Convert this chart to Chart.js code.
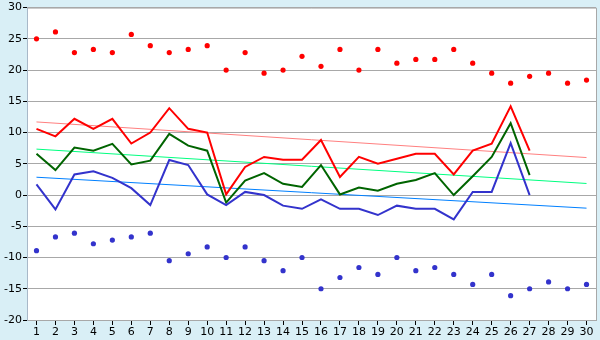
<!DOCTYPE html>
<html>
<head>
<meta charset="utf-8">
<script src="https://cdn.jsdelivr.net/npm/chart.js@4/dist/chart.umd.min.js"></script>
<style>
  html, body { margin: 0; padding: 0; background: #d9eff6; }
  canvas { display: block; }
</style>
</head>
<body>
<canvas id="myChart" width="600" height="340"></canvas>
<script>
// Days of the month
const days = ['1','2','3','4','5','6','7','8','9','10','11','12','13','14','15',
  '16','17','18','19','20','21','22','23','24','25','26','27','28','29','30'];

// Record highs / lows per day (scatter markers)
const recordHigh = [25, 26.1, 22.8, 23.3, 22.8, 25.7, 23.9, 22.8, 23.3, 23.9,
  20, 22.8, 19.5, 20, 22.2, 20.6, 23.3, 20, 23.3, 21.1,
  21.7, 21.7, 23.3, 21.1, 19.5, 17.9, 19, 19.5, 17.9, 18.4];
const recordLow = [-8.9, -6.7, -6.1, -7.8, -7.2, -6.7, -6.1, -10.5, -9.4, -8.3,
  -10, -8.3, -10.5, -12.1, -10, -15, -13.2, -11.6, -12.7, -10,
  -12.1, -11.6, -12.7, -14.3, -12.7, -16.1, -15, -13.9, -15, -14.3];

// Daily max / mean / min for days 1..27
const dailyMax = [10.6, 9.4, 12.2, 10.6, 12.2, 8.25, 10, 13.9, 10.6, 10,
  0.1, 4.5, 6.1, 5.65, 5.65, 8.8, 2.9, 6.1, 5, 5.8,
  6.6, 6.6, 3.3, 7.1, 8.2, 14.2, 7.1];
const dailyMean = [6.6, 4, 7.6, 7.1, 8.2, 4.9, 5.5, 9.8, 7.9, 7.1,
  -1.2, 2.3, 3.5, 1.8, 1.3, 4.8, 0.1, 1.2, 0.7, 1.8,
  2.4, 3.5, 0, 3, 6.1, 11.5, 3.2];
const dailyMin = [1.7, -2.3, 3.3, 3.8, 2.75, 1.1, -1.6, 5.6, 4.8, 0.1,
  -1.6, 0.5, 0, -1.7, -2.2, -0.7, -2.2, -2.2, -3.2, -1.7,
  -2.2, -2.2, -3.9, 0.5, 0.5, 8.3, 0];

// Normal max / mean / min (start and end of month)
const normalMax = [11.7, 6.0];
const normalMean = [7.35, 1.85];
const normalMin = [2.85, -2.1];

const yTicks = [-20, -15, -10, -5, 0, 5, 10, 15, 20, 25, 30];

function endpoints(vals) {
  return [{ x: days[0], y: vals[0] }, { x: days[days.length - 1], y: vals[1] }];
}

// White plot area with a thin grey frame
const plotFrame = {
  id: 'plotFrame',
  beforeDraw(chart) {
    const { ctx, chartArea: a } = chart;
    ctx.save();
    ctx.fillStyle = '#ffffff';
    ctx.fillRect(a.left, a.top, a.right - a.left, a.bottom - a.top);
    ctx.restore();
  },
  afterDatasetsDraw(chart) {
    const { ctx, chartArea: a } = chart;
    ctx.save();
    ctx.strokeStyle = '#a8a8a8';
    ctx.lineWidth = 1;
    ctx.beginPath();
    ctx.moveTo(a.left, a.top + 0.5);
    ctx.lineTo(a.right + 0.5, a.top + 0.5);
    ctx.lineTo(a.right + 0.5, a.bottom);
    ctx.stroke();
    ctx.restore();
  }
};

const lineStyle = (color, width) => ({
  type: 'line',
  borderColor: color,
  backgroundColor: color,
  borderWidth: width,
  pointRadius: 0,
  fill: false,
  tension: 0
});

const ctx = document.getElementById('myChart').getContext('2d');
const myChart = new Chart(ctx, {
  data: {
    labels: days,
    datasets: [
      Object.assign(lineStyle('#3333cc', 2), { label: 'Min', data: dailyMin }),
      Object.assign(lineStyle('#006400', 2), { label: 'Mean', data: dailyMean }),
      Object.assign(lineStyle('#ff0000', 2), { label: 'Max', data: dailyMax }),
      Object.assign(lineStyle('#ff8080', 1), { label: 'Normal max', data: endpoints(normalMax) }),
      Object.assign(lineStyle('#00ff80', 1), { label: 'Normal mean', data: endpoints(normalMean) }),
      Object.assign(lineStyle('#0080ff', 1), { label: 'Normal min', data: endpoints(normalMin) }),
      {
        type: 'line', label: 'Record high', data: recordHigh, showLine: false,
        pointStyle: 'circle', pointRadius: 2.6, pointBorderWidth: 0,
        pointBackgroundColor: '#ff0000', borderColor: '#ff0000'
      },
      {
        type: 'line', label: 'Record low', data: recordLow, showLine: false,
        pointStyle: 'circle', pointRadius: 2.6, pointBorderWidth: 0,
        pointBackgroundColor: '#3333cc', borderColor: '#3333cc'
      }
    ]
  },
  plugins: [plotFrame],
  options: {
    responsive: false,
    animation: false,
    layout: { padding: { top: 5, right: 4, left: 0, bottom: 0 } },
    plugins: { legend: { display: false }, tooltip: { enabled: false } },
    scales: {
      x: {
        type: 'category',
        offset: true,
        grid: {
          offset: false, drawOnChartArea: false, drawTicks: true,
          tickLength: 5, tickColor: '#000000'
        },
        border: { color: '#a8a8a8' },
        ticks: {
          autoSkip: false, maxRotation: 0, padding: 1,
          color: '#000000', font: { family: 'DejaVu Sans', size: 11 }
        },
        afterFit(scale) { scale.height = 20; }
      },
      y: {
        min: -20, max: 30,
        afterBuildTicks(scale) { scale.ticks = yTicks.map(v => ({ value: v })); },
        grid: { color: '#a8a8a8', tickLength: 4, tickColor: '#000000' },
        border: { color: '#a8b8c8' },
        ticks: {
          padding: 1,
          color: '#000000', font: { family: 'DejaVu Sans', size: 11 }
        },
        afterFit(scale) { scale.width = 27; }
      }
    }
  }
});
</script>
</body>
</html>
